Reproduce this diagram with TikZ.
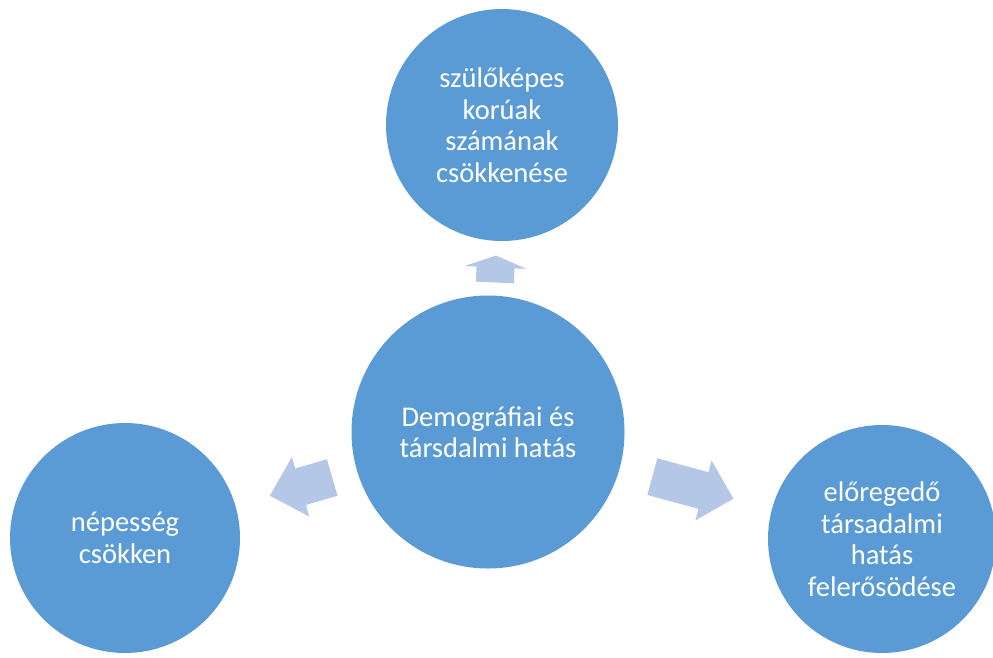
\documentclass[tikz,border=0pt]{standalone}
\usepackage{fontspec}
\setmainfont{Carlito}
\usetikzlibrary{positioning,calc}
\definecolor{bubblue}{RGB}{91,155,213}
\definecolor{paleblue}{RGB}{180,199,231}

\tikzset{
  pics/blockarrow/.style 2 args={
    code={
      \fill[paleblue] (-#1/2,-19) -- (#1/2-#2,-19) -- (#1/2-#2,-31) -- (#1/2,0)
        -- (#1/2-#2,31) -- (#1/2-#2,19) -- (-#1/2,19) -- cycle;
    }
  }
}

\begin{document}
\begin{tikzpicture}[
  x=1pt,y=-1pt,
  bub/.style={
    circle,
    fill=bubblue,
    inner sep=0pt,
    align=center,
    text=white,
    font=\fontsize{28.5}{31.5}\selectfont
  }
]
\useasboundingbox (0,0) rectangle (993,657);
\node[bub,minimum size=273pt] (hub) at (488,432) {Demográfiai és\\társdalmi hatás};
\node[bub,minimum size=232pt] (birth) at (502,125) {szülőképes\\korúak\\számának\\csökkenése};
\node[bub,minimum size=230pt] (pop) at (125,538) {népesség\\csökken};
\node[bub,minimum size=228pt] (aging) at (882,539) {előregedő\\társadalmi\\hatás\\felerősödése};
\path (hub.center) -- pic[pos=.531,sloped,allow upside down] {blockarrow={27}{12}} (birth.center);
\path (hub.center) -- pic[pos=.515,sloped,allow upside down] {blockarrow={65}{32}} (pop.center);
\path (hub.center) -- pic[pos=.52,sloped,allow upside down] {blockarrow={84}{31}} (aging.center);
\end{tikzpicture}
\end{document}
